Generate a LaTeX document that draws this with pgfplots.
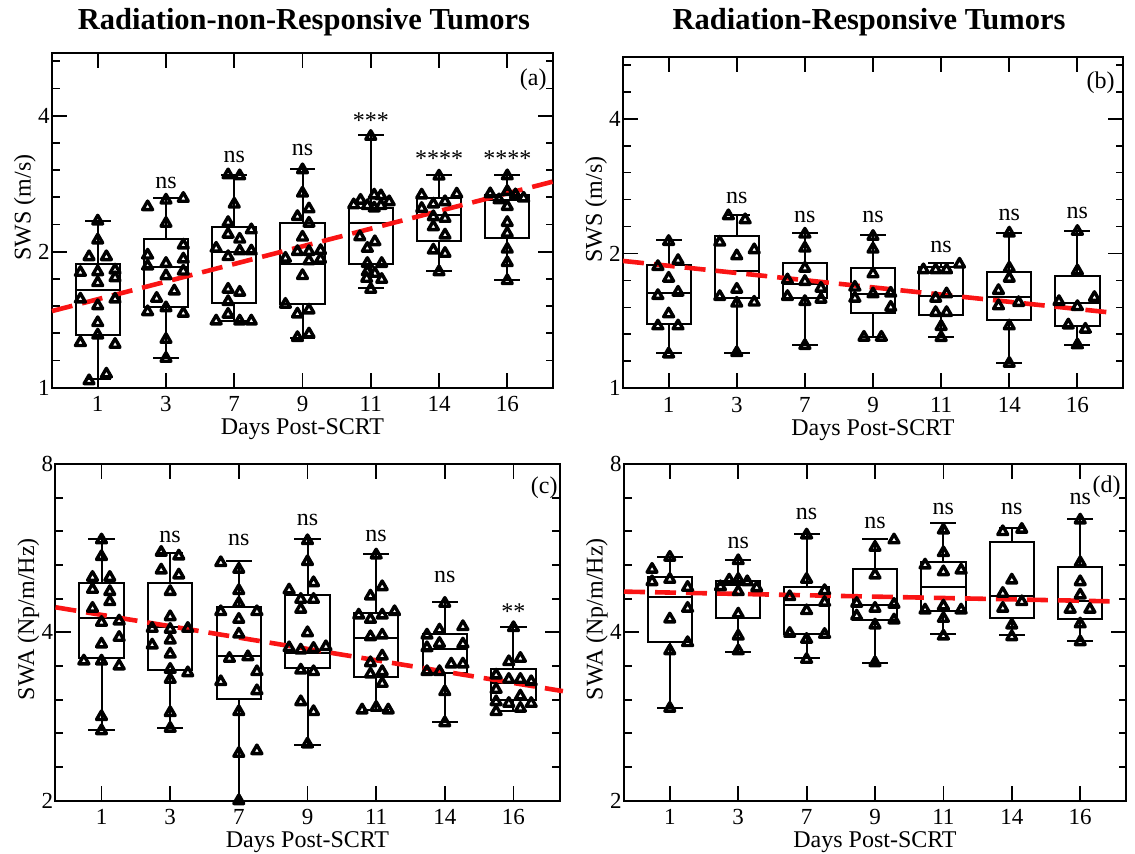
\documentclass[border=0pt]{standalone}
\usepackage{fontspec}
\setmainfont{Liberation Serif}
\usepackage{pgfplots}
\usepackage{pgfplotstable}
\pgfplotsset{compat=1.18}

\newcommand\mylabfont{\fontsize{12}{14}\selectfont}

\pgfplotstableread[row sep=\\]{
g dx v\\
0 0 2.339\\ 0 0 2.123\\ 0 -0.127 1.950\\ 0 0.127 1.950\\ 0 -0.254 1.800\\ 0 0 1.806\\ 0 0.254 1.822\\ 0 0 1.708\\ 0 0.254 1.752\\ 0 -0.254 1.571\\ 0 0.254 1.571\\ 0 0 1.519\\ 0 0 1.393\\ 0 0 1.308\\ 0 -0.254 1.258\\ 0 0.254 1.247\\ 0 -0.127 1.036\\ 0 0.127 1.072\\
1 0 2.602\\ 1 0.254 2.625\\ 1 -0.269 2.515\\ 1 0 2.311\\ 1 0.254 2.069\\ 1 -0.269 1.966\\ 1 0.254 1.927\\ 1 0 1.884\\ 1 -0.269 1.859\\ 1 0.254 1.812\\ 1 0 1.770\\ 1 0.122 1.637\\ 1 -0.137 1.577\\ 1 0 1.503\\ 1 -0.269 1.473\\ 1 0.254 1.461\\ 1 0 1.279\\ 1 0 1.161\\
2 -0.09 2.960\\ 2 0.08 2.945\\ 2 0 2.549\\ 2 -0.09 2.321\\ 2 -0.09 2.187\\ 2 0.08 2.132\\ 2 -0.265 2.036\\ 2 -0.09 1.951\\ 2 0.08 2.008\\ 2 0.25 2.008\\ 2 0.25 2.236\\ 2 -0.09 1.652\\ 2 0.08 1.627\\ 2 -0.09 1.551\\ 2 -0.265 1.405\\ 2 -0.09 1.454\\ 2 0.08 1.405\\ 2 0.25 1.405\\
3 0 3.037\\ 3 0 2.696\\ 3 0.095 2.488\\ 3 -0.074 2.393\\ 3 0.095 2.313\\ 3 0 2.154\\ 3 -0.074 2.002\\ 3 0.095 2.002\\ 3 0.265 2.012\\ 3 0.265 1.925\\ 3 0.095 1.909\\ 3 -0.25 1.935\\ 3 0 1.771\\ 3 -0.25 1.530\\ 3 -0.074 1.456\\ 3 0.095 1.486\\ 3 -0.074 1.291\\ 3 0.095 1.315\\
4 0 3.60\\ 4 -0.25 2.54\\ 4 -0.15 2.60\\ 4 -0.05 2.53\\ 4 0.05 2.50\\ 4 0.15 2.66\\ 4 0.15 2.53\\ 4 0.27 2.58\\ 4 0.05 2.67\\ 4 -0.16 2.159\\ 4 0.06 2.105\\ 4 -0.05 2.035\\ 4 -0.05 1.884\\ 4 0.16 1.884\\ 4 -0.05 1.806\\ 4 0.06 1.791\\ 4 -0.06 1.746\\ 4 0.16 1.737\\ 4 0 1.651\\
5 0 2.941\\ 5 -0.254 2.670\\ 5 0.26 2.684\\ 5 -0.083 2.550\\ 5 0.088 2.581\\ 5 -0.254 2.494\\ 5 -0.083 2.391\\ 5 0.088 2.370\\ 5 -0.083 2.272\\ 5 0.088 2.178\\ 5 -0.083 2.017\\ 5 0.088 1.983\\ 5 0 1.806\\
6 0 2.945\\ 6 -0.25 2.687\\ 6 -0.12 2.606\\ 6 0 2.719\\ 6 0.12 2.673\\ 6 0.24 2.628\\ 6 0 2.519\\ 6 0 2.321\\ 6 0 2.198\\ 6 0 2.026\\ 6 0 1.892\\ 6 0 1.726\\
}\ptsA

\pgfplotstableread[row sep=\\]{
g dx v\\
0 0 2.127\\ 0 0.138 1.929\\ 0 -0.158 1.870\\ 0 0 1.761\\ 0 -0.158 1.611\\ 0 0.138 1.639\\ 0 0 1.466\\ 0 -0.158 1.378\\ 0 0.138 1.378\\ 0 0 1.193\\
1 -0.123 2.428\\ 1 0.123 2.378\\ 1 -0.25 2.120\\ 1 0.256 2.038\\ 1 0 1.976\\ 1 0 1.664\\ 1 -0.25 1.603\\ 1 0 1.549\\ 1 0.256 1.557\\ 1 0 1.201\\
2 0 2.209\\ 2 0 2.056\\ 2 0 1.854\\ 2 -0.256 1.746\\ 2 0 1.732\\ 2 0.236 1.673\\ 2 -0.256 1.603\\ 2 0 1.562\\ 2 0.236 1.581\\ 2 0 1.246\\
3 0 2.183\\ 3 0 2.045\\ 3 0 1.801\\ 3 -0.266 1.682\\ 3 0 1.625\\ 3 0.26 1.631\\ 3 -0.266 1.589\\ 3 0.26 1.517\\ 3 -0.133 1.300\\ 3 0.123 1.300\\
4 -0.26 1.839\\ 4 -0.08 1.839\\ 4 0.08 1.839\\ 4 0.27 1.893\\ 4 -0.08 1.589\\ 4 0.08 1.625\\ 4 -0.08 1.476\\ 4 0.08 1.476\\ 4 0 1.374\\ 4 0 1.298\\
5 0 2.221\\ 5 0 1.855\\ 5 0 1.761\\ 5 -0.158 1.653\\ 5 -0.158 1.528\\ 5 0.138 1.554\\ 5 0 1.378\\ 5 0 1.137\\
6 0 2.240\\ 6 0 1.829\\ 6 -0.27 1.562\\ 6 0 1.522\\ 6 0.25 1.595\\ 6 -0.133 1.385\\ 6 0.117 1.355\\ 6 0 1.250\\
}\ptsB

\pgfplotstableread[row sep=\\]{
g dx v\\
0 0 5.852\\ 0 0 5.464\\ 0 -0.131 5.016\\ 0 0.121 5.016\\ 0 -0.131 4.774\\ 0 0.121 4.731\\ 0 0.121 4.538\\ 0 -0.131 4.416\\ 0 0 4.168\\ 0 0.257 4.191\\ 0 0.257 3.918\\ 0 0 3.813\\ 0 -0.257 3.555\\ 0 0 3.555\\ 0 0.257 3.482\\ 0 0 2.827\\ 0 0 2.668\\
1 -0.131 5.561\\ 1 0.126 5.477\\ 1 -0.131 5.170\\ 1 0.126 5.066\\ 1 0 4.731\\ 1 0 4.266\\ 1 -0.262 4.066\\ 1 0 4.050\\ 1 0.257 4.066\\ 1 0 3.876\\ 1 -0.262 3.797\\ 1 0 3.658\\ 1 0 3.435\\ 1 0.257 3.387\\ 1 0 3.296\\ 1 0 2.874\\ 1 0 2.694\\
2 -0.263 5.329\\ 2 0 5.185\\ 2 0 4.750\\ 2 0 4.507\\ 2 -0.263 4.355\\ 2 0.263 4.355\\ 2 0 4.220\\ 2 0 3.972\\ 2 -0.137 3.594\\ 2 0.132 3.618\\ 2 0.263 3.402\\ 2 -0.263 3.265\\ 2 0.263 3.145\\ 2 0 2.886\\ 2 0 2.430\\ 2 0.263 2.456\\ 2 0 2.000\\
3 0 5.834\\ 3 0 5.352\\ 3 0.088 4.907\\ 3 -0.268 4.762\\ 3 -0.098 4.582\\ 3 0.088 4.582\\ 3 -0.098 4.398\\ 3 0 3.995\\ 3 -0.268 3.755\\ 3 -0.098 3.719\\ 3 0.088 3.745\\ 3 0.268 3.771\\ 3 -0.098 3.425\\ 3 0.088 3.402\\ 3 -0.098 3.006\\ 3 0.088 2.886\\ 3 0 2.526\\
4 0 5.500\\ 4 0.088 4.827\\ 4 -0.083 4.645\\ 4 -0.254 4.295\\ 4 -0.083 4.220\\ 4 0.088 4.295\\ 4 0.268 4.355\\ 4 -0.083 3.929\\ 4 0.088 3.956\\ 4 0.088 3.629\\ 4 -0.083 3.530\\ 4 -0.083 3.369\\ 4 0.088 3.403\\ 4 0.088 3.242\\ 4 -0.205 2.906\\ 4 0 2.937\\ 4 0.176 2.906\\
5 0 4.507\\ 5 -0.26 3.956\\ 5 -0.078 4.039\\ 5 0.263 4.095\\ 5 -0.26 3.755\\ 5 -0.078 3.823\\ 5 0.263 3.813\\ 5 -0.26 3.403\\ 5 -0.078 3.403\\ 5 0.093 3.511\\ 5 0.263 3.511\\ 5 0 3.133\\ 5 0 2.757\\
6 0 4.078\\ 6 -0.068 3.545\\ 6 0.1 3.594\\ 6 -0.253 3.355\\ 6 -0.068 3.296\\ 6 0.1 3.296\\ 6 0.258 3.265\\ 6 -0.253 3.163\\ 6 0.1 3.077\\ 6 -0.253 3.006\\ 6 -0.068 2.985\\ 6 0.258 2.985\\ 6 -0.253 2.886\\ 6 0.1 2.926\\
}\ptsC

\pgfplotstableread[row sep=\\]{
g dx v\\
0 0 5.448\\ 0 -0.26 5.185\\ 0 -0.26 4.927\\ 0 0 4.975\\ 0 0.26 4.814\\ 0 0.26 4.416\\ 0 0 4.226\\ 0 0.26 3.834\\ 0 0 3.709\\ 0 0 2.926\\
1 0 5.373\\ 1 -0.132 4.961\\ 1 0 4.975\\ 1 0.132 4.927\\ 1 -0.26 4.827\\ 1 0.27 4.807\\ 1 0 4.731\\ 1 0 4.313\\ 1 0 3.939\\ 1 0 3.709\\
2 0 5.972\\ 2 0 4.975\\ 2 0.263 4.750\\ 2 -0.247 4.633\\ 2 0.263 4.526\\ 2 0 4.373\\ 2 -0.247 3.983\\ 2 0.263 3.967\\ 2 0 3.887\\ 2 0 3.578\\
3 0 5.676\\ 3 0.278 5.852\\ 3 0 5.066\\ 3 -0.268 4.507\\ 3 0 4.416\\ 3 0.278 4.489\\ 3 -0.268 4.278\\ 3 0.278 4.209\\ 3 0 4.123\\ 3 0 3.530\\
4 0 6.096\\ 4 0 5.553\\ 4 -0.268 5.278\\ 4 0 5.134\\ 4 0.259 5.170\\ 4 -0.268 4.385\\ 4 0 4.458\\ 4 0.259 4.385\\ 4 0 4.237\\ 4 0 3.939\\
5 -0.132 6.054\\ 5 0.146 6.113\\ 5 0 4.961\\ 5 -0.132 4.696\\ 5 0.146 4.538\\ 5 -0.132 4.416\\ 5 0 4.123\\ 5 0 3.929\\
6 0 6.352\\ 6 0 5.329\\ 6 0 4.927\\ 6 0 4.665\\ 6 -0.147 4.398\\ 6 0.142 4.398\\ 6 0 4.141\\ 6 0 3.849\\
}\ptsD

\pgfplotsset{
  myaxbase/.style={
    scale only axis, clip=false,
    xmin=-0.67, xmax=6.67,
    xtick={0,1,2,3,4,5,6}, xticklabels={1,3,7,9,11,14,16},
    tick align=inside, xtick pos=both, ytick pos=both,
    xticklabel pos=lower, yticklabel pos=left,
    major tick length=7.5pt, minor tick length=3.75pt,
    every tick/.style={black, line width=0.9pt},
    axis line style={black, line width=1pt},
    tick label style={font=\fontsize{11.5}{13}\selectfont},
    label style={font=\mylabfont},
    xlabel={Days Post-SCRT},
    xlabel style={at={(axis description cs:0.5,0)}, anchor=base, yshift=-23.5pt},
    xticklabel style={anchor=base, yshift=-12pt},
    yticklabel style={anchor=east, inner xsep=0pt, xshift=-1pt},
    ylabel style={at={(axis description cs:-0.054,0.539)}, anchor=center},
  },
  myboxst/.style={black, line width=1pt, solid, mark=none, line cap=rect},
  myptst/.style={only marks, mark=triangle, mark size=2.85pt,
    mark options={draw=black, fill=white, line width=1.7pt, line join=round, solid}},
  mytrend/.style={color={rgb,255:red,250;green,20;blue,20}, line width=2.3pt, dash pattern=on 10.5pt off 5pt, mark=none},
}

% box: position, lower whisker, lower quartile, median, upper quartile, upper whisker
\newcommand\mybox[6]{%
  \pgfmathsetmacro\bxl{#1-0.325}\pgfmathsetmacro\bxr{#1+0.325}%
  \pgfmathsetmacro\bcl{#1-0.175}\pgfmathsetmacro\bcr{#1+0.175}%
  \addplot[myboxst] coordinates {(#1,#3) (#1,#2)};
  \addplot[myboxst] coordinates {(#1,#5) (#1,#6)};
  \addplot[myboxst] coordinates {(\bcl,#2) (\bcr,#2)};
  \addplot[myboxst] coordinates {(\bcl,#6) (\bcr,#6)};
  \addplot[myboxst, fill=white] coordinates {(\bxl,#3) (\bxr,#3) (\bxr,#5) (\bxl,#5)} --cycle;
  \addplot[myboxst] coordinates {(\bxl,#4) (\bxr,#4)};
}
\newcommand\mysig[3]{\node[font=\mylabfont] at (axis cs:#1,#2) {#3};}
\newcommand\mysigs[3]{\node[font=\mylabfont, yshift=-1.8pt] at (axis cs:#1,#2) {#3};}

\begin{document}
\begin{tikzpicture}
\useasboundingbox (0,0) rectangle (567.5pt,426.5pt);

\node[font=\fontsize{15.25}{18}\selectfont\bfseries, anchor=base] at (152pt,411.5pt) {Radiation-non-Responsive Tumors};
\node[font=\fontsize{15.25}{18}\selectfont\bfseries, anchor=base] at (434.5pt,411.5pt) {Radiation-Responsive Tumors};

% (a)
\begin{axis}[myaxbase, ymode=log,
  ymin=1, ymax=5.5, ytick={1,2,4}, yticklabels={1,2,4},
  minor ytick={1.1487,1.3195,1.5157,1.7411,2.2974,2.6390,3.0314,3.4822,4.5948,5.2780},
  ylabel={SWS (m/s)},
  at={(26pt,232.65pt)}, anchor=south west, width=250.5pt, height=167.2pt]
\mybox{0}{1.043}{1.308}{1.645}{1.875}{2.345}
\mybox{1}{1.165}{1.506}{1.846}{2.133}{2.625}
\mybox{2}{1.405}{1.540}{1.995}{2.265}{2.960}
\mybox{3}{1.286}{1.532}{1.875}{2.320}{3.045}
\mybox{4}{1.659}{1.875}{2.319}{2.494}{3.620}
\mybox{5}{1.816}{2.112}{2.411}{2.625}{2.956}
\mybox{6}{1.733}{2.140}{2.600}{2.670}{2.955}
\addplot[myptst] table[x expr=\thisrow{g}+\thisrow{dx}, y=v] {\ptsA};
\addplot[mytrend] coordinates {(-0.67,1.478) (6.67,2.86)};
\mysig{1}{2.84}{ns}
\mysig{2}{3.24}{ns}
\mysig{3}{3.36}{ns}
\mysigs{4}{3.98}{***}
\mysigs{5}{3.27}{****}
\mysigs{6}{3.27}{****}
\node[font=\mylabfont, anchor=north east, inner sep=0pt] at (rel axis cs:0.988,0.955) {(a)};
\end{axis}

% (b)
\begin{axis}[myaxbase, ymode=log,
  ymin=1, ymax=5.5, ytick={1,2,4}, yticklabels={1,2,4},
  minor ytick={1.1487,1.3195,1.5157,1.7411,2.2974,2.6390,3.0314,3.4822,4.5948,5.2780},
  ylabel={SWS (m/s)},
  at={(311.5pt,232.35pt)}, anchor=south west, width=250pt, height=165.8pt]
\mybox{0}{1.197}{1.393}{1.631}{1.887}{2.139}
\mybox{1}{1.197}{1.589}{1.829}{2.183}{2.440}
\mybox{2}{1.250}{1.594}{1.711}{1.909}{2.221}
\mybox{3}{1.305}{1.476}{1.625}{1.855}{2.202}
\mybox{4}{1.300}{1.459}{1.609}{1.870}{1.903}
\mybox{5}{1.137}{1.421}{1.603}{1.823}{2.221}
\mybox{6}{1.250}{1.378}{1.549}{1.777}{2.248}
\addplot[myptst] table[x expr=\thisrow{g}+\thisrow{dx}, y=v] {\ptsB};
\addplot[mytrend] coordinates {(-0.67,1.925) (6.46,1.478)};
\mysig{1}{2.659}{ns}
\mysig{2}{2.418}{ns}
\mysig{3}{2.418}{ns}
\mysig{4}{2.072}{ns}
\mysig{5}{2.440}{ns}
\mysig{6}{2.469}{ns}
\node[font=\mylabfont, anchor=north east, inner sep=0pt] at (rel axis cs:0.984,0.955) {(b)};
\end{axis}

% (c)
\begin{axis}[myaxbase, ymode=log,
  ymin=2, ymax=8, ytick={2,4,8}, yticklabels={2,4,8},
  minor ytick={2.2974,2.6390,3.0314,3.4822,4.5948,5.2780,6.0629,6.9644},
  ylabel={SWA (Np/m/Hz)},
  at={(27.75pt,26.15pt)}, anchor=south west, width=252pt, height=168.35pt]
\mybox{0}{2.676}{3.604}{4.237}{4.907}{5.873}
\mybox{1}{2.694}{3.425}{4.084}{4.894}{5.553}
\mybox{2}{2.000}{3.039}{3.633}{4.445}{5.366}
\mybox{3}{2.516}{3.449}{3.680}{4.665}{5.865}
\mybox{4}{2.906}{3.333}{3.913}{4.325}{5.514}
\mybox{5}{2.769}{3.378}{3.734}{3.972}{4.526}
\mybox{6}{2.890}{3.027}{3.242}{3.444}{4.095}
\addplot[myptst] table[x expr=\thisrow{g}+\thisrow{dx}, y=v] {\ptsC};
\addplot[mytrend] coordinates {(-0.67,4.435) (6.72,3.14)};
\mysig{1}{5.93}{ns}
\mysig{2}{5.85}{ns}
\mysig{3}{6.36}{ns}
\mysig{4}{5.95}{ns}
\mysig{5}{5.02}{ns}
\mysigs{6}{4.42}{**}
\node[font=\mylabfont, anchor=north east, inner sep=0pt] at (rel axis cs:0.997,0.962) {(c)};
\end{axis}

% (d)
\begin{axis}[myaxbase, ymode=log,
  ymin=2, ymax=8, ytick={2,4,8}, yticklabels={2,4,8},
  minor ytick={2.2974,2.6390,3.0314,3.4822,4.5948,5.2780,6.0629,6.9644},
  ylabel={SWA (Np/m/Hz)},
  at={(312pt,26.15pt)}, anchor=south west, width=251pt, height=168.35pt]
\mybox{0}{2.926}{3.839}{4.633}{5.031}{5.464}
\mybox{1}{3.694}{4.249}{4.860}{4.940}{5.388}
\mybox{2}{3.594}{3.972}{4.478}{4.815}{5.996}
\mybox{3}{3.530}{4.209}{4.477}{5.185}{5.873}
\mybox{4}{3.967}{4.367}{4.814}{5.352}{6.266}
\mybox{5}{3.956}{4.237}{4.645}{5.793}{6.138}
\mybox{6}{3.860}{4.220}{4.551}{5.228}{6.370}
\addplot[myptst] table[x expr=\thisrow{g}+\thisrow{dx}, y=v] {\ptsD};
\addplot[mytrend] coordinates {(-0.67,4.730) (6.43,4.545)};
\mysig{1}{5.77}{ns}
\mysig{2}{6.51}{ns}
\mysig{3}{6.27}{ns}
\mysig{4}{6.64}{ns}
\mysig{5}{6.64}{ns}
\mysig{6}{6.92}{ns}
\node[font=\mylabfont, anchor=north east, inner sep=0pt] at (rel axis cs:0.99,0.967) {(d)};
\end{axis}
\end{tikzpicture}
\end{document}
